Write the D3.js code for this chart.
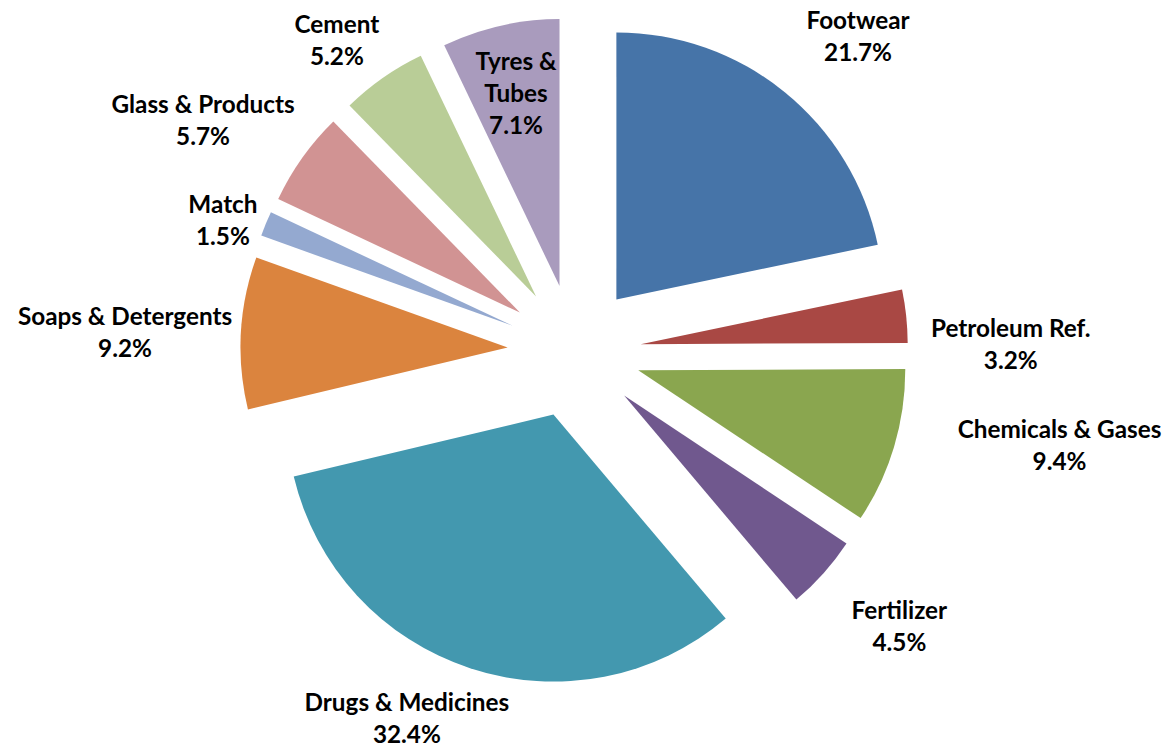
<!DOCTYPE html>
<html>
<head>
<meta charset="utf-8">
<script src="https://cdn.jsdelivr.net/npm/d3@7"></script>
<style>
  html, body { margin: 0; padding: 0; background: #ffffff; }
  svg { display: block; }
  text { font-family: "Lato", "Open Sans", sans-serif; font-weight: 700; fill: #000; }
</style>
</head>
<body>
<svg id="chart" width="1170" height="750"></svg>
<script>
// ---- data ----
const categories = ["Footwear", "Petroleum Ref.", "Chemicals & Gases", "Fertilizer",
  "Drugs & Medicines", "Soaps & Detergents", "Match", "Glass & Products", "Cement", "Tyres & Tubes"];
const values = [21.7, 3.2, 9.4, 4.5, 32.4, 9.2, 1.5, 5.7, 5.2, 7.1];

// ---- styles / layout ----
const colors = ["#4674A8", "#A94844", "#8AA64F", "#70588E", "#4398AF",
  "#DB843E", "#94A9D0", "#D19393", "#B9CD97", "#A99BBD"];
// label placement relative to each exploded slice: distance (in radii) and angle shift (deg)
const labelRadius = [1.337, 1.386, 1.603, 1.348, 1.266, 1.434, 1.154, 1.386, 1.213, 0.736];
const labelAngleShift = [3.5, 6.2, -6.5, -1.6, 7.5, -1.0, -2.5, -4.3, -3.0, 0];
const labelInside = [false, false, false, false, false, false, false, false, false, true];

const W = 1170, H = 750;
const cx = 574.3, cy = 351.2;
const R = 267;
const explode = 0.25 * R;
const lineH = 32;
const fmt = d3.format(".1f");

const svg = d3.select("#chart");
const g = svg.append("g").attr("transform", `translate(${cx},${cy})`);

const pie = d3.pie().sort(null).value(d => d.value);
const arc = d3.arc().innerRadius(0).outerRadius(R);

const data = categories.map((c, i) => ({ name: c, value: values[i], i }));
const arcs = pie(data);

const slices = g.selectAll("g.slice").data(arcs).join("g")
  .attr("class", "slice")
  .attr("transform", d => {
    const mid = (d.startAngle + d.endAngle) / 2;
    const [ox, oy] = d3.pointRadial(mid, explode);
    return `translate(${ox},${oy})`;
  });

slices.append("path")
  .attr("d", arc)
  .attr("fill", d => colors[d.data.i]);

slices.each(function(d) {
  const i = d.data.i;
  const mid = (d.startAngle + d.endAngle) / 2;
  const [lx, ly] = d3.pointRadial(mid + labelAngleShift[i] * Math.PI / 180, labelRadius[i] * R);
  let lines;
  if (labelInside[i]) {
    const parts = d.data.name.split(" & ");
    lines = [parts[0] + " &", parts[1]];
  } else {
    lines = [d.data.name];
  }
  lines.push(fmt(d.data.value) + "%");
  const n = lines.length;
  const t = d3.select(this).append("text")
    .attr("text-anchor", "middle")
    .style("font-size", "24.3px");
  lines.forEach((ln, k) => {
    t.append("tspan")
      .attr("x", lx)
      .attr("y", ly + (k - (n - 1) / 2) * lineH + 8)
      .text(ln);
  });
});
</script>
</body>
</html>
